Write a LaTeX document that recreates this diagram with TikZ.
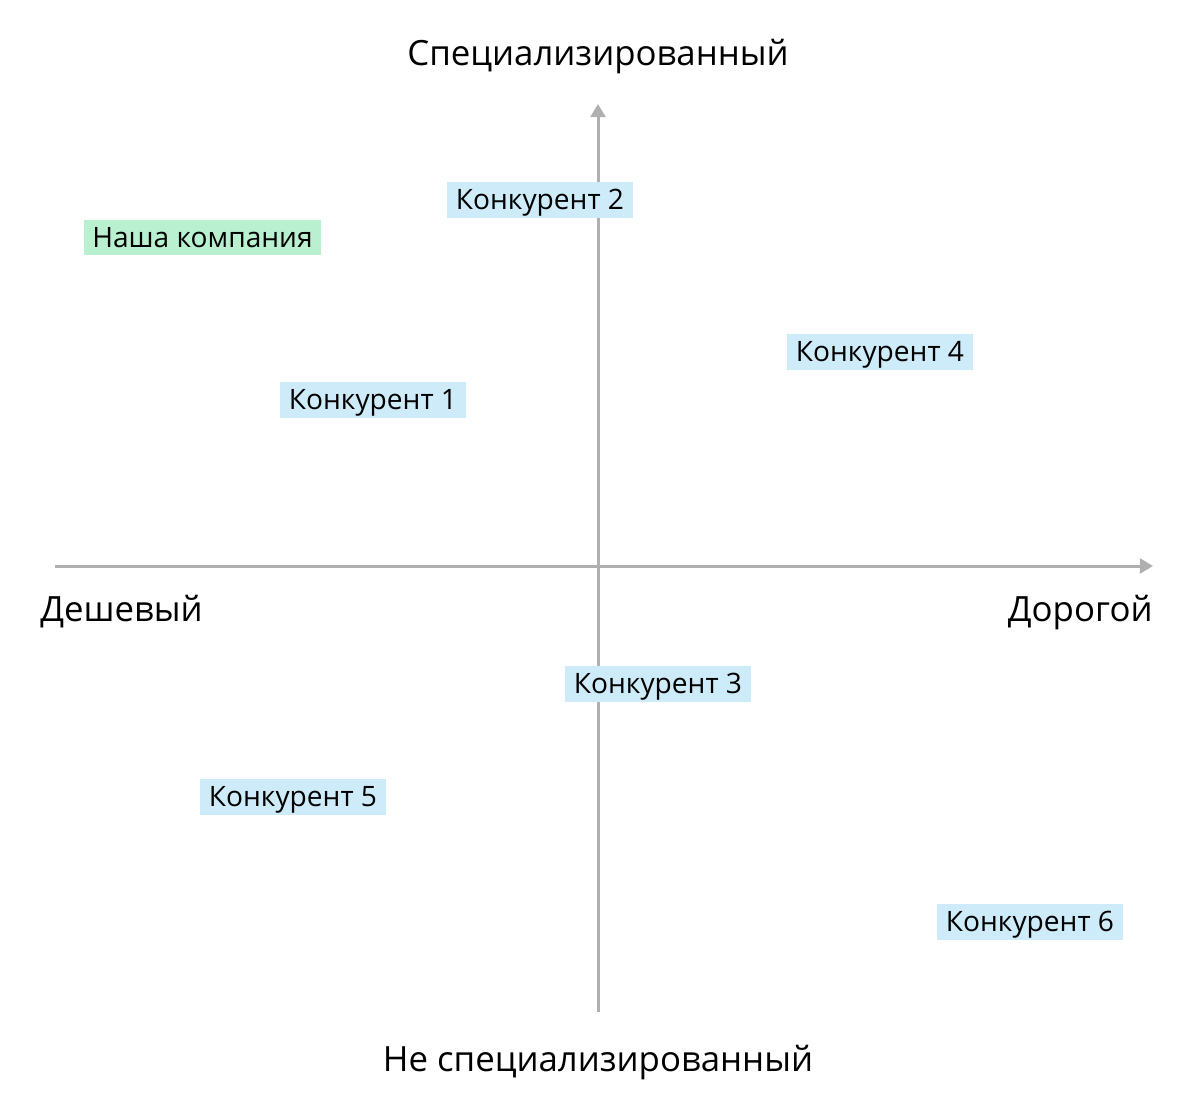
\documentclass[tikz,border=0pt]{standalone}
\usepackage{fontspec}
\setmainfont{Open Sans}
\usetikzlibrary{arrows.meta}
\definecolor{compblue}{HTML}{CDEBF8}
\definecolor{ourgreen}{HTML}{B8F0D0}
\definecolor{axisgray}{HTML}{B0B0B0}
\begin{document}
\begin{tikzpicture}[
x=0.02cm, y=-0.02cm,
comp/.style = {fill=compblue, inner sep=0pt, minimum width=3.72cm, minimum height=0.72cm,
               text height=11.3pt, text depth=0pt, font=\fontsize{16}{18}\selectfont},
ours/.style = {comp, fill=ourgreen, minimum width=4.74cm, minimum height=0.7cm},
axis/.style = {draw=axisgray, line width=1.7pt, -{Triangle[length=7.5pt,width=8.5pt]}},
title/.style = {font=\fontsize{19.8}{22}\selectfont, inner sep=0pt}
                        ]
\useasboundingbox (0,0) rectangle (1200,1110);
%
\coordinate (bottom) at (598,1012);
\coordinate (top)    at (598,104);
\coordinate (left)   at (55,566);
\coordinate (right)  at (1153,566);
\draw[axis] (bottom) -- (top);
\draw[axis] (left) -- (right);
%
\node[title,anchor=base] (spec)   at (598,65)   {Специализированный};
\node[title,anchor=base] (nospec) at (598,1071) {Не специализированный};
\node[title,anchor=base west] (cheap) at (40,621)  {Дешевый};
\node[title,anchor=base east] (dear)  at (1153,621) {Дорогой};
%
\node[ours] (we) at (202.5,237.5) {Наша компания};
\node[comp] (c1) at (373,400)   {Конкурент 1};
\node[comp] (c2) at (540,200)   {Конкурент 2};
\node[comp] (c3) at (658,683.5) {Конкурент 3};
\node[comp] (c4) at (880,352)   {Конкурент 4};
\node[comp] (c5) at (293,797)   {Конкурент 5};
\node[comp] (c6) at (1030,921.5){Конкурент 6};

\end{tikzpicture}
\end{document}
